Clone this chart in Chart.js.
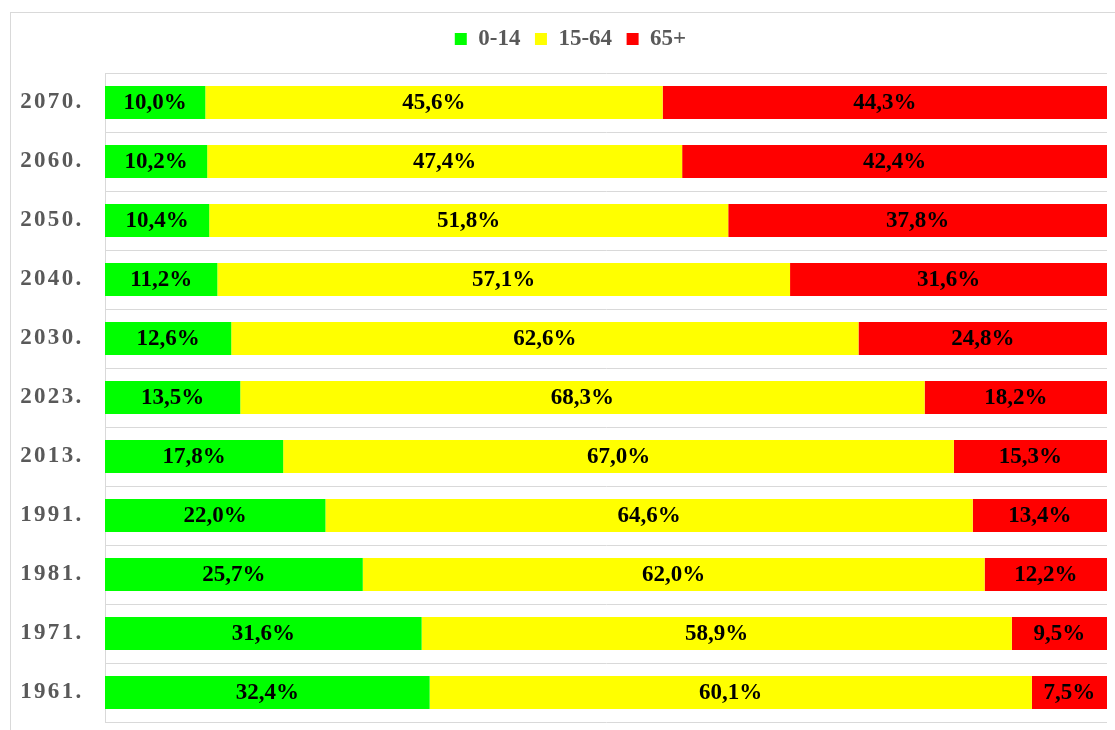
<!DOCTYPE html>
<html><head><meta charset="utf-8">
<script src="https://cdn.jsdelivr.net/npm/chart.js@4"></script>
<style>
html,body{margin:0;padding:0;background:#fff;overflow:hidden;width:1115px;height:730px;}
#box{position:absolute;left:10px;top:12px;width:1120px;height:717px;border:1px solid #d9d9d9;}
canvas{display:block;}
</style></head><body>
<div id="box"><canvas id="c" width="1120" height="717"></canvas></div>
<script>
const years = ['2070.','2060.','2050.','2040.','2030.','2023.','2013.','1991.','1981.','1971.','1961.'];
const age0_14 = [10.0,10.2,10.4,11.2,12.6,13.5,17.8,22.0,25.7,31.6,32.4];
const age15_64 = [45.6,47.4,51.8,57.1,62.6,68.3,67.0,64.6,62.0,58.9,60.1];
const age65plus = [44.3,42.4,37.8,31.6,24.8,18.2,15.3,13.4,12.2,9.5,7.5];
const seriesNames = ['0-14','15-64','65+'];

const raw = [age0_14, age15_64, age65plus];
const totals = years.map((_, i) => raw.reduce((s, arr) => s + arr[i], 0));
const share = arr => arr.map((v, i) => v / totals[i] * 100);
const colors = ['#00ff00','#ffff00','#ff0000'];
const FONT = "'Liberation Serif','Times New Roman',serif";

const labelPlugin = {
  id: 'barLabels',
  afterDatasetsDraw(chart) {
    const ctx = chart.ctx;
    ctx.save();
    ctx.font = 'bold 23px ' + FONT;
    ctx.fillStyle = '#000';
    ctx.textAlign = 'center';
    ctx.textBaseline = 'middle';
    chart.data.datasets.forEach((ds, di) => {
      const meta = chart.getDatasetMeta(di);
      meta.data.forEach((el, i) => {
        const p = el.getProps(['x','y','base'], true);
        const txt = raw[di][i].toFixed(1).replace('.', ',') + '%';
        ctx.fillText(txt, (p.x + p.base) / 2, p.y + 1);
      });
    });
    ctx.restore();
  }
};

const tweakPlugin = {
  id: 'tweak',
  beforeLayout(chart) {
    const lg = chart.legend;
    if (lg && !lg._wrapped) {
      lg._wrapped = true;
      const of = lg.fit;
      lg.fit = function() { of.call(this); this.height = 60; };
    }
  },
  beforeDraw(chart) {
    const ys = chart.scales.y;
    if (ys && !ys._wrapped) {
      ys._wrapped = true;
      ys._computeLabelArea = function() { return undefined; };
      const odl = ys.drawLabels;
      ys.drawLabels = function(area) {
        const ctx = this.ctx;
        ctx.save();
        ctx.letterSpacing = '2.3px';
        odl.call(this, area);
        ctx.restore();
      };
    }
  }
};

new Chart(document.getElementById('c'), {
  type: 'bar',
  data: {
    labels: years,
    datasets: raw.map((arr, k) => ({
      label: seriesNames[k],
      data: share(arr),
      backgroundColor: colors[k],
      borderWidth: 0,
      categoryPercentage: 0.56,
      barPercentage: 1
    }))
  },
  options: {
    indexAxis: 'y',
    responsive: false,
    animation: false,
    devicePixelRatio: 1,
    layout: { padding: { left: 23, right: 24, top: 0, bottom: 8 } },
    plugins: {
      legend: {
        position: 'top',
        labels: {
          boxWidth: 12, boxHeight: 12, padding: 14.5,
          color: '#595959',
          font: { family: FONT, size: 23, weight: 'bold' }
        }
      },
      tooltip: { enabled: false }
    },
    scales: {
      x: { stacked: true, min: 0, max: 100, display: false },
      y: {
        stacked: true,
        afterFit(s) { s.width = 71; s.paddingTop = 0; s.paddingBottom = 0; },
        grid: { color: '#d9d9d9', lineWidth: 1, drawTicks: false },
        border: { color: '#d9d9d9', width: 1 },
        ticks: {
          color: '#595959', padding: 21.5,
          font: { family: FONT, size: 23, weight: 'bold' }
        }
      }
    }
  },
  plugins: [labelPlugin, tweakPlugin]
});
</script>
</body></html>
